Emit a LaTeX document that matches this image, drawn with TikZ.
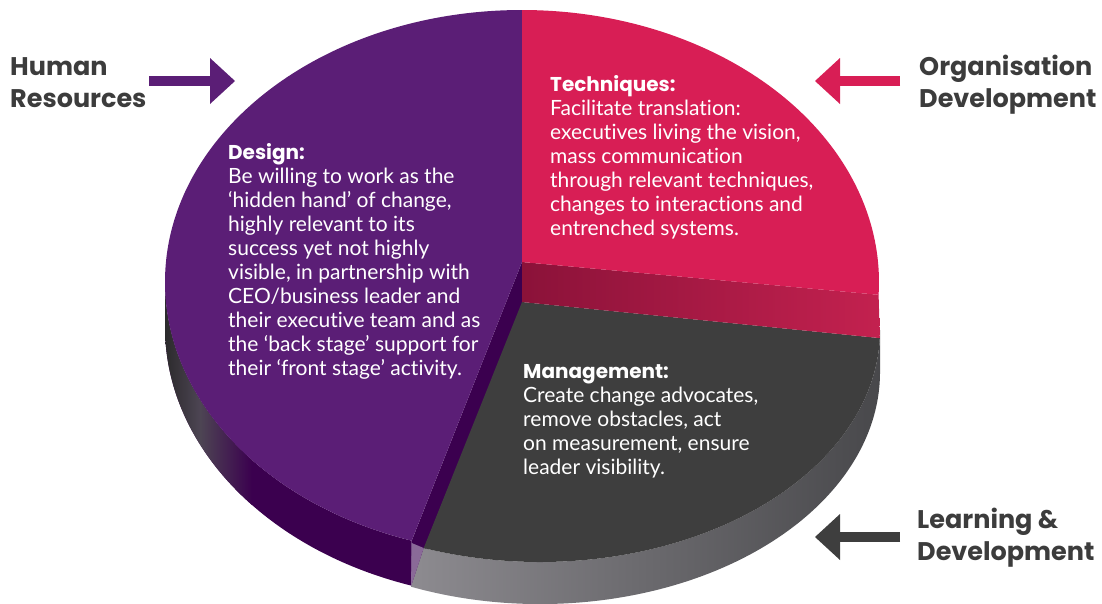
\documentclass[tikz,border=0pt]{standalone}
\usepackage{fontspec}
\setmainfont{Lato}[Ligatures=NoCommon]
\newfontfamily\headfont{Poppins}
\usetikzlibrary{arrows.meta}

\definecolor{hrpurple}{HTML}{5B1E76}
\definecolor{hrpurpledark}{HTML}{3B004F}
\definecolor{greypurple}{HTML}{4D4553}
\definecolor{fadepurple}{HTML}{8A6A98}
\definecolor{odred}{HTML}{D81E55}
\definecolor{odreddark}{HTML}{8B1239}
\definecolor{odredside}{HTML}{C3214F}
\definecolor{ldgrey}{HTML}{3E3E3E}
\definecolor{ldgreylight}{HTML}{8D8B90}
\definecolor{ldgreyside}{HTML}{48484B}
\definecolor{labelgrey}{HTML}{3C3C3C}

\newcommand{\slicehead}[1]{{\headfont\bfseries\fontsize{20}{24}\selectfont #1}}

\begin{document}
\begin{tikzpicture}[x=1pt,y=-1pt]
\tikzstyle{every node}+=[inner sep=0pt]
\tikzstyle{slicetext}=[anchor=base west, align=left, text=white, font=\fontsize{21}{24}\selectfont]
\tikzstyle{labeltext}=[anchor=base west, align=left, text=labelgrey, font=\headfont\bfseries\fontsize{25.5}{32}\selectfont]
\tikzstyle{blockarrow}=[line width=10.5pt, -{Triangle[length=25pt,width=46pt,line width=0pt]}]
\useasboundingbox (0,0) rectangle (1102,603);
\begin{scope}
\clip (165,282) arc[start angle=180, end angle=108, x radius=357, y radius=272] -- ++(0,45) arc[start angle=108, end angle=180, x radius=357, y radius=272] -- cycle;
\fill [hrpurpledark] (160,270) rectangle (420,600);
\shade [left color=black!85, right color=greypurple] (160,270) rectangle (200,600);
\shade [left color=greypurple, right color=hrpurpledark] (200,270) rectangle (252,600);
\end{scope}
\fill [hrpurpledark] (522,262) -- (411.7,540.7) -- ++(0,45) -- (522,307) -- cycle;
\shade [left color=ldgreylight, right color=ldgreyside] (880,330) arc[start angle=0, end angle=110, x radius=340, y radius=232] -- (411,586.7) arc[start angle=112.3, end angle=0, x radius=340, y radius=232] -- cycle;
\fill [ldgrey] (522,302) -- (879.8,338.1) arc[start angle=2, end angle=110, x radius=340, y radius=232] -- cycle;
\fill [fadepurple] (411.7,543) -- (423.7,548) -- (411,586.7) -- cycle;
\fill [hrpurple] (522,262) -- (522,10) arc[start angle=270, end angle=108, x radius=357, y radius=272] -- cycle;
\shade [left color=odreddark, right color=odredside] (522,262) -- (878.6,294.8) -- (879.8,338.1) -- (522,302) -- cycle;
\fill [odred] (522,262) -- (522,10) arc[start angle=-90, end angle=2.7, x radius=357, y radius=272] -- cycle;

\node [slicetext] (design) at (228,375) {\slicehead{Design:}\\
Be willing to work as the\\
‘hidden hand’ of change,\\
highly relevant to its\\
success yet not highly\\
visible, in partnership with\\
CEO/business leader and\\
their executive team and as\\
the ‘back stage’ support for\\
their ‘front stage’ activity.};
\node [slicetext] (techniques) at (550,235) {\slicehead{Techniques:}\\
Facilitate translation:\\
executives living the vision,\\
mass communication\\
through relevant techniques,\\
changes to interactions and\\
entrenched systems.};
\node [slicetext] (management) at (523,474) {\slicehead{Management:}\\
Create change advocates,\\
remove obstacles, act\\
on measurement, ensure\\
leader visibility.};

\node [labeltext] (hr) at (10,107) {Human\\Resources};
\node [labeltext] (od) at (919,107) {Organisation\\Development};
\node [labeltext] (ld) at (917,560) {Learning \&\\Development};

\coordinate (hrtail) at (149,81);
\coordinate (hrtip) at (235,81);
\coordinate (odtail) at (900,81);
\coordinate (odtip) at (815,81);
\coordinate (ldtail) at (900,537);
\coordinate (ldtip) at (815,537);
\draw [blockarrow, hrpurple] (hrtail) -- (hrtip);
\draw [blockarrow, odred] (odtail) -- (odtip);
\draw [blockarrow, ldgrey] (ldtail) -- (ldtip);
\end{tikzpicture}
\end{document}
